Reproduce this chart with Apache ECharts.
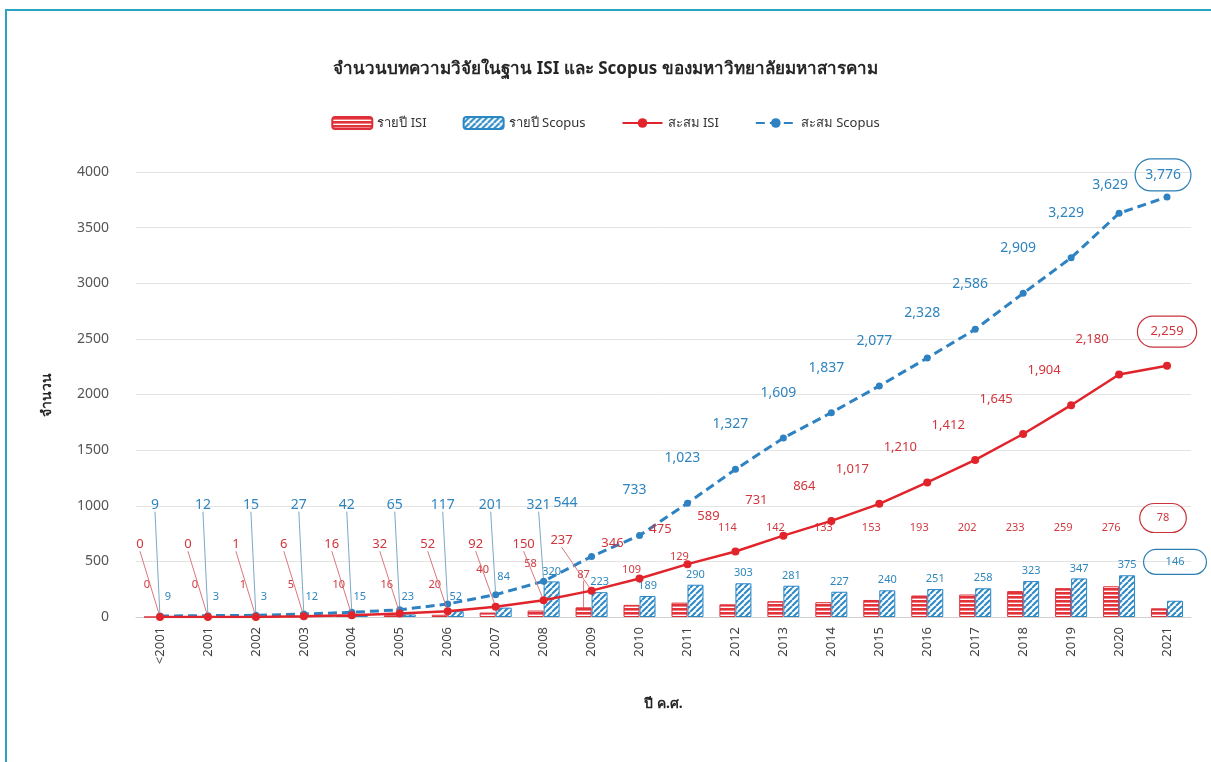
<!DOCTYPE html>
<html><head><meta charset="utf-8">
<script src="https://cdn.jsdelivr.net/npm/echarts@6/dist/echarts.min.js"></script>
<style>html,body{margin:0;padding:0;background:#fff}#c{width:1211px;height:762px}</style>
</head><body><div id="c"></div>
<script>
const categories = ['<2001','2001','2002','2003','2004','2005','2006','2007','2008','2009','2010','2011','2012','2013','2014','2015','2016','2017','2018','2019','2020','2021'];
const isiYearly = [0,0,1,5,10,16,20,40,58,87,109,129,114,142,133,153,193,202,233,259,276,78];
const scopusYearly = [9,3,3,12,15,23,52,84,320,223,189,290,303,281,227,240,251,258,323,347,375,146];
const isiCumulative = [0,0,1,6,16,32,52,92,150,237,346,475,589,731,864,1017,1210,1412,1645,1904,2180,2259];
const scopusCumulative = [9,12,15,27,42,65,117,201,321,544,733,1023,1327,1609,1837,2077,2328,2586,2909,3229,3629,3776];
const yMin = 0, yMax = 4000, yStep = 500;

const FONT = 'Tahoma, "Noto Sans", "DejaVu Sans", sans-serif';
const RED = '#e1242b', BLUE = '#2f82c2';
const GRID = {left:136, right:20, top:172, bottom:145};
const CH = 762;
const plotH = CH - GRID.top - GRID.bottom;
function yPix(v){ return GRID.top + (1 - (v - yMin)/(yMax - yMin)) * plotH; }
function fmt(v){ return Number(v).toLocaleString('en-US'); }

function patH(){
  const c = document.createElement('canvas'); c.width = 8; c.height = 4;
  const g = c.getContext('2d');
  g.fillStyle = '#ffffff'; g.fillRect(0,0,8,4);
  g.fillStyle = '#e2323a'; g.fillRect(0,0,8,2.6);
  return c;
}
function patD(){
  const s = 6;
  const c = document.createElement('canvas'); c.width = s; c.height = s;
  const g = c.getContext('2d');
  g.fillStyle = '#ffffff'; g.fillRect(0,0,s,s);
  g.strokeStyle = '#2b8ac6'; g.lineWidth = 2;
  for (const k of [-s, 0, s]) { g.beginPath(); g.moveTo(k, s); g.lineTo(k + s, 0); g.stroke(); }
  return c;
}

const chart = echarts.init(document.getElementById('c'), null, {renderer:'canvas'});
const last = categories.length - 1;

const isiYearData = isiYearly.map((v,i)=>({value:v,
  labelLine:{show: i===9}}));
const scopusYearData = scopusYearly.map((v,i)=>({value:v}));
const isiCumData = isiCumulative.map((v,i)=>({value:v,
  labelLine:{show: i<10},
  label: i===last ? {borderColor:'#c8343c', borderWidth:1.2, borderRadius:18, padding:[9,13]} : {}}));
const scopusCumData = scopusCumulative.map((v,i)=>({value:v,
  labelLine:{show: i<9},
  label: i===last ? {borderColor:'#2a7fb5', borderWidth:1.2, borderRadius:18, padding:[9,10]} : {}}));
isiYearData[last].label = {borderColor:'#c8343c', borderWidth:1.2, borderRadius:18, padding:[9,17]};
scopusYearData[last].label = {borderColor:'#2a7fb5', borderWidth:1.2, borderRadius:18, padding:[7,22]};

chart.setOption({
  animation:false,
  backgroundColor:'#ffffff',
  textStyle:{fontFamily:FONT},
  title:{text:'จำนวนบทความวิจัยในฐาน ISI และ Scopus ของมหาวิทยาลัยมหาสารคาม', left:'center', top:56,
    textStyle:{fontSize:17, fontWeight:'bold', color:'#262626', fontFamily:FONT}},
  legend:{top:111, left:'center', itemWidth:40, itemHeight:12, itemGap:36,
    textStyle:{fontSize:13, color:'#333', fontFamily:FONT},
    data:['รายปี ISI','รายปี Scopus','สะสม ISI','สะสม Scopus']},
  grid:GRID,
  graphic:[{type:'polyline', shape:{points:[[6,762],[6,10],[1211,10]]}, style:{stroke:'#2aa5bf', fill:null, lineWidth:2}, silent:true}],
  xAxis:{type:'category', data:categories,
    name:'ปี ค.ศ.', nameLocation:'middle', nameGap:80,
    nameTextStyle:{fontSize:14, fontWeight:'bold', color:'#262626'},
    axisLine:{lineStyle:{color:'#d0d0d0'}}, axisTick:{show:false},
    axisLabel:{rotate:90, fontSize:13, color:'#404040', margin:10, interval:0}},
  yAxis:{type:'value', min:yMin, max:yMax, interval:yStep,
    name:'จำนวน', nameLocation:'middle', nameGap:82,
    nameTextStyle:{fontSize:14, fontWeight:'bold', color:'#262626'},
    axisLine:{show:false}, axisTick:{show:false},
    axisLabel:{fontSize:14, color:'#555', margin:27, formatter:v=>String(v)},
    splitLine:{lineStyle:{color:'#e3e3e3'}}},
  series:[
    {name:'รายปี ISI', type:'bar', data:isiYearData, barWidth:16, barGap:'0%', z:2,
      itemStyle:{color:{image:patH(), repeat:'repeat'}, borderColor:'#de2e36', borderWidth:1},
      label:{show:true, position:'top', fontSize:11, color:'#cf3a41'},
      labelLine:{show:false, lineStyle:{color:'#d9777c', width:1}},
      labelLayout:function(p){
        const i = p.dataIndex, cx = p.rect.x + p.rect.width/2;
        let v;
        if (i < 7) v = 290;
        else if (i === 7) v = 420;
        else if (i === 8) v = 480;
        else if (i === 9) v = 375;
        else if (i === 10) v = 420;
        else if (i === 11) v = 540;
        else if (i === last) v = 890;
        else v = 800;
        const dx = i < 9 ? -5 : (i === last ? 4 : 0);
        return {x:cx+dx, y:yPix(v), align:'center', verticalAlign:'middle'};
      }},
    {name:'รายปี Scopus', type:'bar', data:scopusYearData, barWidth:16, barGap:'0%', z:2,
      itemStyle:{color:{image:patD(), repeat:'repeat'}, borderColor:'#2b86c4', borderWidth:1},
      label:{show:true, position:'top', fontSize:11, color:'#2f86bd'},
      labelLayout:function(p){
        const i = p.dataIndex, cx = p.rect.x + p.rect.width/2;
        const top = Math.min(p.rect.y, p.rect.y + p.rect.height);
        if (i < 7) return {x:cx, y:yPix(180), align:'center', verticalAlign:'middle'};
        if (i === 7) return {x:cx, y:yPix(360), align:'center', verticalAlign:'middle'};
        if (i === last) return {x:cx, y:yPix(495), align:'center', verticalAlign:'middle'};
        return {x:cx, y:top-10, align:'center', verticalAlign:'middle'};
      }},
    {name:'สะสม ISI', type:'line', data:isiCumData, z:4,
      lineStyle:{color:RED, width:2.5}, itemStyle:{color:RED},
      symbol:'circle', symbolSize:8,
      label:{show:true, fontSize:13, color:'#d2353c', formatter:p=>fmt(p.value)},
      labelLine:{show:false, lineStyle:{color:'#d9777c', width:1}},
      labelLayout:function(p){
        const i = p.dataIndex, cx = p.rect.x + p.rect.width/2, cy = p.rect.y + p.rect.height/2;
        if (i < 9) return {x:cx-20, y:yPix(650), align:'center', verticalAlign:'middle'};
        if (i === 9) return {x:cx-30, y:cy-50, align:'center', verticalAlign:'middle'};
        if (i === last) return {x:cx, y:cy-34, align:'center', verticalAlign:'middle'};
        return {x:cx-27, y:cy-35, align:'center', verticalAlign:'middle'};
      }},
    {name:'สะสม Scopus', type:'line', data:scopusCumData, z:3,
      lineStyle:{color:BLUE, width:3, type:[9,5]}, itemStyle:{color:BLUE},
      symbol:'circle', symbolSize:7,
      label:{show:true, fontSize:14, color:'#2d84bf', formatter:p=>fmt(p.value)},
      labelLine:{show:false, lineStyle:{color:'#7ea8c6', width:1}},
      labelLayout:function(p){
        const i = p.dataIndex, cx = p.rect.x + p.rect.width/2, cy = p.rect.y + p.rect.height/2;
        if (i < 9) return {x:cx-5, y:yPix(1010), align:'center', verticalAlign:'middle'};
        if (i === 9) return {x:cx-26, y:cy-53, align:'center', verticalAlign:'middle'};
        if (i === last) return {x:cx-4, y:cy-22, align:'center', verticalAlign:'middle'};
        if (i === last-1) return {x:cx-9, y:cy-28, align:'center', verticalAlign:'middle'};
        return {x:cx-5, y:cy-45, align:'center', verticalAlign:'middle'};
      }}
  ]
});
</script></body></html>
